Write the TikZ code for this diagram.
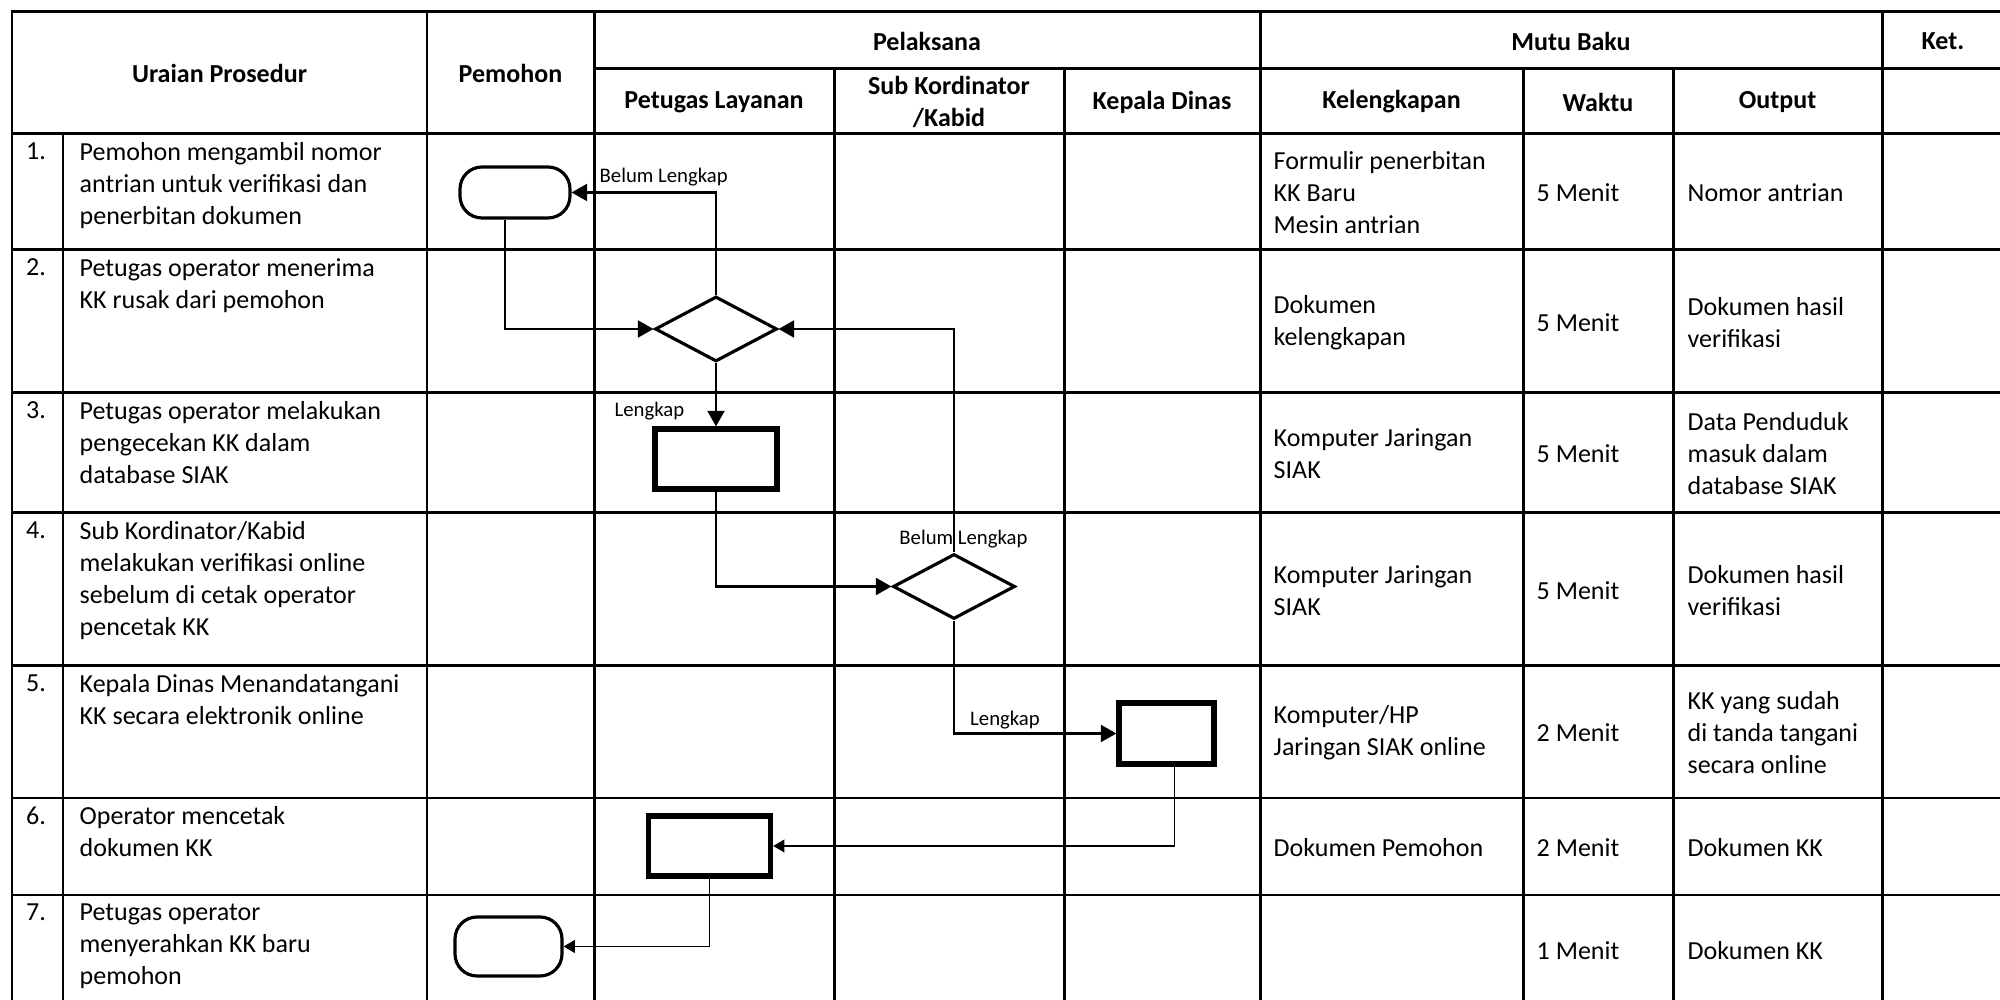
\documentclass[tikz,border=0pt]{standalone}
\usepackage{fontspec}
\setmainfont{Carlito}
\usepackage{tikz}
\usetikzlibrary{shapes.geometric,arrows.meta}
\tikzstyle{garis} = [line width=0.85pt,line cap=rect]
\tikzstyle{judul} = [align=center,inner sep=0pt,font=\fontsize{7.4}{9.1}\selectfont\bfseries]
\tikzstyle{uraian} = [align=left,anchor=north west,inner sep=0pt]
\tikzstyle{mutu} = [align=left,anchor=west,inner sep=0pt]
\tikzstyle{terminal} = [rectangle,rounded corners=0.22cm,draw,fill=white,line width=0.9pt,minimum width=1.1cm,minimum height=0.51cm]
\tikzstyle{proses} = [rectangle,draw,fill=white,line width=1.5pt,minimum width=1.22cm,minimum height=0.6cm]
\tikzstyle{keputusan} = [diamond,draw,fill=white,line width=0.9pt,minimum width=1.22cm,minimum height=0.65cm,inner sep=0pt]
\tikzstyle{panah} = [line width=0.65pt,-{Triangle[length=4.4pt,width=4.8pt]}]
\tikzstyle{panahkecil} = [line width=0.55pt,-{Triangle[length=3.2pt,width=3.6pt]}]
\tikzstyle{catatan} = [inner sep=0pt,font=\fontsize{5.9}{7}\selectfont]
\begin{document}
\begin{tikzpicture}
\tikzstyle{every node}=[font=\fontsize{7.4}{9.1}\selectfont]
\useasboundingbox (0,0) rectangle (20,-10);

% garis tabel
\draw[garis] (0.12,-0.12) -- (20,-0.12);
\draw[garis] (5.94,-0.69) -- (20,-0.69);
\draw[garis] (0.12,-1.34) -- (20,-1.34);
\draw[garis] (0.12,-2.50) -- (20,-2.50);
\draw[garis] (0.12,-3.93) -- (20,-3.93);
\draw[garis] (0.12,-5.13) -- (20,-5.13);
\draw[garis] (0.12,-6.66) -- (20,-6.66);
\draw[garis] (0.12,-7.98) -- (20,-7.98);
\draw[garis] (0.12,-8.95) -- (20,-8.95);

\draw[garis] (0.12,-0.12) -- (0.12,-10);
\draw[garis] (0.63,-1.34) -- (0.63,-10);
\draw[garis] (4.27,-0.12) -- (4.27,-10);
\draw[garis] (5.94,-0.12) -- (5.94,-10);
\draw[garis] (8.34,-0.69) -- (8.34,-10);
\draw[garis] (10.64,-0.69) -- (10.64,-10);
\draw[garis] (12.60,-0.12) -- (12.60,-10);
\draw[garis] (15.23,-0.69) -- (15.23,-10);
\draw[garis] (16.73,-0.69) -- (16.73,-10);
\draw[garis] (18.82,-0.12) -- (18.82,-10);

% judul kolom
\node (hUraian)   [judul] at (2.195,-0.73) {Uraian Prosedur};
\node (hPemohon)  [judul] at (5.105,-0.73) {Pemohon};
\node (hPelaksana)[judul] at (9.27,-0.41) {Pelaksana};
\node (hMutu)     [judul] at (15.71,-0.41) {Mutu Baku};
\node (hKet)      [judul] at (19.43,-0.41) {Ket.};
\node (hPetugas)  [judul] at (7.14,-1.02) {Petugas Layanan};
\node (hSub)      [judul] at (9.49,-1.02) {Sub Kordinator\\/Kabid};
\node (hKepala)   [judul] at (11.62,-1.02) {Kepala Dinas};
\node (hKel)      [judul] at (13.915,-1.02) {Kelengkapan};
\node (hWaktu)    [judul] at (15.98,-1.02) {Waktu};
\node (hOutput)   [judul] at (17.775,-1.02) {Output};

% uraian prosedur
\node (no1) [uraian] at (0.255,-1.42) {1.};
\node (no2) [uraian] at (0.255,-2.58) {2.};
\node (no3) [uraian] at (0.255,-4.01) {3.};
\node (no4) [uraian] at (0.255,-5.21) {4.};
\node (no5) [uraian] at (0.255,-6.74) {5.};
\node (no6) [uraian] at (0.255,-8.06) {6.};
\node (no7) [uraian] at (0.255,-9.03) {7.};
\node (ur1) [uraian] at (0.79,-1.42) {Pemohon mengambil nomor\\antrian untuk verifikasi dan\\penerbitan dokumen};
\node (ur2) [uraian] at (0.79,-2.58) {Petugas operator menerima\\KK rusak dari pemohon};
\node (ur3) [uraian] at (0.79,-4.01) {Petugas operator melakukan\\pengecekan KK dalam\\database SIAK};
\node (ur4) [uraian] at (0.79,-5.21) {Sub Kordinator/Kabid\\melakukan verifikasi online\\sebelum di cetak operator\\pencetak KK};
\node (ur5) [uraian] at (0.79,-6.74) {Kepala Dinas Menandatangani\\KK secara elektronik online};
\node (ur6) [uraian] at (0.79,-8.06) {Operator mencetak\\dokumen KK};
\node (ur7) [uraian] at (0.79,-9.03) {Petugas operator\\menyerahkan KK baru\\pemohon};

% mutu baku
\node (kel1) [mutu] at (12.73,-1.93) {Formulir penerbitan\\KK Baru\\Mesin antrian};
\node (kel2) [mutu] at (12.73,-3.225) {Dokumen\\kelengkapan};
\node (kel3) [mutu] at (12.73,-4.54) {Komputer Jaringan\\SIAK};
\node (kel4) [mutu] at (12.73,-5.905) {Komputer Jaringan\\SIAK};
\node (kel5) [mutu] at (12.73,-7.33) {Komputer/HP\\Jaringan SIAK online};
\node (kel6) [mutu] at (12.73,-8.475) {Dokumen Pemohon};
\node (wkt1) [mutu] at (15.36,-1.93) {5 Menit};
\node (wkt2) [mutu] at (15.36,-3.225) {5 Menit};
\node (wkt3) [mutu] at (15.36,-4.54) {5 Menit};
\node (wkt4) [mutu] at (15.36,-5.905) {5 Menit};
\node (wkt5) [mutu] at (15.36,-7.33) {2 Menit};
\node (wkt6) [mutu] at (15.36,-8.475) {2 Menit};
\node (wkt7) [mutu] at (15.36,-9.51) {1 Menit};
\node (out1) [mutu] at (16.87,-1.93) {Nomor antrian};
\node (out2) [mutu] at (16.87,-3.225) {Dokumen hasil\\verifikasi};
\node (out3) [mutu] at (16.87,-4.54) {Data Penduduk\\masuk dalam\\database SIAK};
\node (out4) [mutu] at (16.87,-5.905) {Dokumen hasil\\verifikasi};
\node (out5) [mutu] at (16.87,-7.33) {KK yang sudah\\di tanda tangani\\secara online};
\node (out6) [mutu] at (16.87,-8.475) {Dokumen KK};
\node (out7) [mutu] at (16.87,-9.51) {Dokumen KK};

% bagan alir
\node (mulai)       [terminal] at (5.15,-1.925) {};
\node (cek1)        [keputusan] at (7.16,-3.29) {};
\node (periksa)     [proses] at (7.16,-4.59) {};
\node (cek2)        [keputusan] at (9.54,-5.865) {};
\node (tandatangan) [proses,minimum width=0.95cm,minimum height=0.61cm] at (11.665,-7.335) {};
\node (cetak)       [proses] at (7.095,-8.46) {};
\node (selesai)     [terminal,minimum width=1.07cm,minimum height=0.59cm] at (5.085,-9.465) {};

\node (belum1)   [catatan,anchor=west] at (5.99,-1.77) {Belum Lengkap};
\node (lengkap1) [catatan,anchor=west] at (6.14,-4.11) {Lengkap};
\node (belum2)   [catatan] at (9.635,-5.39) {Belum Lengkap};
\node (lengkap2) [catatan] at (10.05,-7.2) {Lengkap};

\draw[panah] ([xshift=-0.1cm]mulai.south) |- (cek1.west);
\draw[panah] (cek1.north) |- (mulai.east);
\draw[panah] (cek1.south) -- (periksa.north);
\draw[panah] (periksa.south) |- (cek2.west);
\draw[panah] (cek2.north) |- (cek1.east);
\draw[panah] (cek2.south) |- (tandatangan.west);
\draw[panahkecil] ([xshift=0.08cm]tandatangan.south) |- (cetak.east);
\draw[panahkecil] (cetak.south) |- (selesai.east);

\end{tikzpicture}
\end{document}
